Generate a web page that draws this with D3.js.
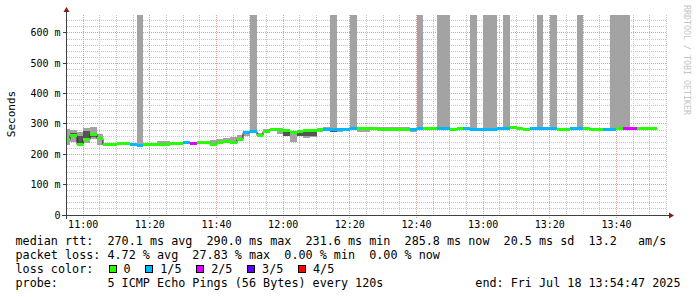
<!DOCTYPE html>
<html>
<head>
<meta charset="utf-8">
<script src="https://cdn.jsdelivr.net/npm/d3@7"></script>
<style>
body { margin: 0; background: #fff; }
text { font-family: "DejaVu Sans Mono", monospace; fill: #000; }
</style>
</head>
<body>
<svg id="chart" width="697" height="297"></svg>
<script>
// one value per 120s step, first step starts 10:54
var stepStart = new Date(2025, 6, 18, 10, 54);
var median = [
  250,265,235,250,268,255,233,233,236,236,
  235,232,234,234,234,234,236,238,240,237,
  240,240,234,240,243,242,250,272,277,265,
  278,285,282,280,273,276,280,281,285,285,
  285,285,283,287,287,286,287,284,284,284,
  284,284,285,287,288,287,286,286,285,287,
  286,284,284,284,285,286,287,290,286,283,
  287,288,287,287,283,283,286,286,287,283,
  283,285,285,286,287,288,287,287,287];
var lossCount = [
  0,0,0,0,0,0,0,0,0,0,
  1,1,0,0,0,0,0,0,1,2,
  0,0,0,0,0,0,0,1,1,0,
  0,0,0,0,0,0,0,0,0,1,
  1,1,1,1,0,0,0,0,0,0,
  0,0,1,1,0,0,1,1,0,0,
  1,1,1,1,1,1,1,0,0,0,
  1,1,1,1,0,0,1,1,0,0,
  0,1,1,0,2,2,0,0,0];
// outer smoke (min / max ping)
var smokeLo = [
  231,240,231,236,250,231,230,230,233,233,
  232,229,231,231,231,231,233,235,237,234,
  237,237,231,237,238,236,245,262,270,262,
  272,276,268,262,240,260,255,256,275,280,
  272,272,280,284,272,272,284,281,281,281,
  281,281,274,284,285,284,283,283,282,284,
  283,281,276,281,282,279,284,287,283,280,
  284,285,284,284,280,280,283,283,284,281,
  281,282,282,283,284,285,284,284,284];
var smokeHi = [
  283,280,275,286,290,268,237,237,239,239,
  238,700,238,238,244,244,240,241,243,240,
  245,245,247,250,255,256,265,276,700,270,
  282,288,286,284,278,279,283,284,288,289,
  700,288,286,700,290,289,290,289,289,289,
  289,289,288,700,291,290,700,700,288,290,
  289,700,287,700,700,289,700,293,289,286,
  290,700,290,700,286,286,289,700,290,286,
  286,288,700,700,700,291,290,290,290];
// inner smoke (2nd / 4th ping)
var innerLo = [
  245,258,236,253,258,250,231,231,234,234,
  233,230,232,232,232,232,234,236,238,235,
  238,238,232,238,241,240,247,268,274,262,
  272,281,276,260,266,260,260,260,282,283,
  274,278,281,285,284,283,285,282,282,282,
  282,282,282,285,286,285,284,284,283,285,
  284,282,281,282,283,283,285,288,283,281,
  285,286,285,285,281,281,284,284,285,281,
  281,283,283,284,285,286,285,284,285];
var innerHi = [
  255,270,260,277,270,257,234,234,237,237,
  236,234,235,235,235,235,237,239,241,238,
  242,242,236,242,245,244,252,274,279,267,
  279,286,283,281,274,277,281,282,286,287,
  287,286,285,288,288,287,288,286,286,286,
  286,286,286,289,290,289,288,288,287,289,
  288,286,286,286,287,287,289,292,288,285,
  289,290,289,289,285,285,288,288,289,285,
  285,287,287,288,289,290,289,289,289];

var lossLabels = ["0", "1/5", "2/5", "3/5", "4/5"];
var lossColors = ["#26ff00", "#00b8ff", "#dd00ff", "#5e00ff", "#ff0000"];

var legendLines = [
  "median rtt:  270.1 ms avg  290.0 ms max  231.6 ms min  285.8 ms now  20.5 ms sd  13.2   am/s",
  "packet loss: 4.72 % avg  27.83 % max  0.00 % min  0.00 % now",
  "loss color:",
  "probe:       5 ICMP Echo Pings (56 Bytes) every 120s"
];
var endLabel = "end: Fri Jul 18 13:54:47 2025";

var svg = d3.select("#chart");
var x = d3.scaleTime()
    .domain([new Date(2025, 6, 18, 10, 55), new Date(2025, 6, 18, 13, 55)])
    .range([66.5, 666.5]);
var y = d3.scaleLinear().domain([0, 659.3]).range([215, 15]);
function px(v) { return Math.floor(v) + 0.5; }

svg.append("rect").attr("width", 697).attr("height", 297).attr("fill", "#fff");

// grid
var grid = svg.append("g");
var yMinor = d3.range(20, 660, 20).filter(function(d) { return d % 100 != 0; });
var yMajor = d3.range(0, 700, 100);
var xMinor = x.ticks(d3.timeMinute.every(5)).filter(function(d) { return d.getMinutes() % 20 != 0; });
var xMajor = x.ticks(d3.timeMinute.every(20));

grid.selectAll(".hmin").data(yMinor).enter().append("line")
    .attr("x1", 67).attr("x2", 667)
    .attr("y1", function(d) { return px(y(d)); })
    .attr("y2", function(d) { return px(y(d)); })
    .style("stroke", "#c6c6c6").style("stroke-dasharray", "1,1");
grid.selectAll(".vmin").data(xMinor).enter().append("line")
    .attr("y1", 15).attr("y2", 215)
    .attr("x1", function(d) { return px(x(d)); })
    .attr("x2", function(d) { return px(x(d)); })
    .style("stroke", "#c6c6c6").style("stroke-dasharray", "1,1");
grid.selectAll(".hmaj").data(yMajor.slice(1)).enter().append("line")
    .attr("x1", 63).attr("x2", 667)
    .attr("y1", function(d) { return px(y(d)); })
    .attr("y2", function(d) { return px(y(d)); })
    .style("stroke", "#e39a9a").style("stroke-dasharray", "1,1");
grid.selectAll(".vmaj").data(xMajor).enter().append("line")
    .attr("y1", 15).attr("y2", 218)
    .attr("x1", function(d) { return px(x(d)); })
    .attr("x2", function(d) { return px(x(d)); })
    .style("stroke", "#e39a9a").style("stroke-dasharray", "1,1");

// data
var steps = median.map(function(m, i) {
  var t0 = d3.timeMinute.offset(stepStart, i * 2);
  return {t0: t0, t1: d3.timeMinute.offset(t0, 2), med: m, loss: lossCount[i],
          lo: smokeLo[i], hi: smokeHi[i], ilo: innerLo[i], ihi: innerHi[i]};
});

svg.append("clipPath").attr("id", "plot")
  .append("rect").attr("x", 67).attr("y", 15).attr("width", 600).attr("height", 200);
var plot = svg.append("g").attr("clip-path", "url(#plot)");

function rx(t) { return Math.round(x(t)); }
function ry(v) { return Math.round(y(Math.min(v, 659.3))); }

plot.selectAll(".smoke").data(steps).enter().append("rect")
    .attr("x", function(d) { return rx(d.t0); })
    .attr("width", function(d) { return rx(d.t1) - rx(d.t0); })
    .attr("y", function(d) { return ry(d.hi); })
    .attr("height", function(d) { return ry(d.lo) - ry(d.hi); })
    .attr("fill", "#a3a3a3");
plot.selectAll(".inner").data(steps).enter().append("rect")
    .attr("x", function(d) { return rx(d.t0); })
    .attr("width", function(d) { return rx(d.t1) - rx(d.t0); })
    .attr("y", function(d) { return ry(d.ihi); })
    .attr("height", function(d) { return ry(d.ilo) - ry(d.ihi); })
    .attr("fill", "#555555");

var medLine = d3.line()
    .x(function(d) { return d[0]; })
    .y(function(d) { return d[1]; })
    .curve(d3.curveStepAfter);
var medPts = steps.map(function(d) { return [rx(d.t0), ry(d.med) + 0.5]; });
var last = steps[steps.length - 1];
medPts.push([rx(last.t1), ry(last.med) + 0.5]);
plot.append("path").attr("d", medLine(medPts))
    .attr("fill", "none").style("stroke", "#202020").style("stroke-width", 1);

plot.selectAll(".med").data(steps).enter().append("rect")
    .attr("x", function(d) { return rx(d.t0); })
    .attr("width", function(d) { return rx(d.t1) - rx(d.t0); })
    .attr("y", function(d) { return ry(d.med) - 1; })
    .attr("height", 3)
    .attr("fill", function(d) { return lossColors[d.loss]; });

// axes
var axisColor = "#404040", arrowColor = "#8b1a1a";
svg.append("line").attr("x1", 66.5).attr("x2", 66.5).attr("y1", 219).attr("y2", 12)
    .style("stroke", axisColor);
svg.append("line").attr("x1", 62).attr("x2", 670).attr("y1", 215.5).attr("y2", 215.5)
    .style("stroke", axisColor);
svg.append("path").attr("d", "M63.5,12L69.5,12L66.5,7Z").attr("fill", arrowColor);
svg.append("path").attr("d", "M669,212.5L669,218.5L674,215.5Z").attr("fill", arrowColor);

svg.selectAll(".ytick").data(yMajor).enter().append("line")
    .attr("x1", 63).attr("x2", 66)
    .attr("y1", function(d) { return px(y(d)); })
    .attr("y2", function(d) { return px(y(d)); })
    .style("stroke", axisColor);

svg.selectAll(".ylab").data(yMajor).enter().append("text")
    .attr("x", 60.5)
    .attr("y", function(d) { return y(d) + 3.5; })
    .attr("text-anchor", "end")
    .style("font-size", "10px")
    .style("white-space", "pre")
    .text(function(d) { return d == 0 ? "0" : d + " m"; });

var fmt = d3.timeFormat("%H:%M");
svg.selectAll(".xlab").data(xMajor).enter().append("text")
    .attr("x", function(d) { return x(d); })
    .attr("y", 228)
    .attr("text-anchor", "middle")
    .style("font-size", "10px")
    .text(fmt);

svg.append("text")
    .attr("transform", "translate(15,114) rotate(-90)")
    .attr("text-anchor", "middle")
    .style("font-size", "11px")
    .text("Seconds");

svg.append("text")
    .attr("transform", "translate(684,60) rotate(90)")
    .attr("text-anchor", "middle")
    .style("font-size", "8.3px")
    .style("fill", "#c4c4c4")
    .text("RRDTOOL / TOBI OETIKER");

// legend
svg.selectAll(".leg").data(legendLines).enter().append("text")
    .attr("x", 15.5)
    .attr("y", function(d, i) { return 244.5 + i * 14; })
    .style("font-size", "11.75px")
    .style("white-space", "pre")
    .text(function(d) { return d; });

svg.append("text")
    .attr("x", 680.5).attr("y", 286.5)
    .attr("text-anchor", "end")
    .style("font-size", "11.75px")
    .text(endLabel);

var bx = 108.5, items = [];
lossLabels.forEach(function(l, i) {
  items.push({label: l, color: lossColors[i], x: bx});
  bx = bx + 15 + l.length * 7.07 + 14.7;
});
svg.selectAll(".lbox").data(items).enter().append("rect")
    .attr("x", function(d) { return Math.round(d.x) + 0.5; })
    .attr("y", 265.5).attr("width", 7).attr("height", 7)
    .attr("fill", function(d) { return d.color; })
    .style("stroke", "#000");
svg.selectAll(".ltxt").data(items).enter().append("text")
    .attr("x", function(d) { return d.x + 15; })
    .attr("y", 272.5)
    .style("font-size", "11.75px")
    .text(function(d) { return d.label; });
</script>
</body>
</html>
